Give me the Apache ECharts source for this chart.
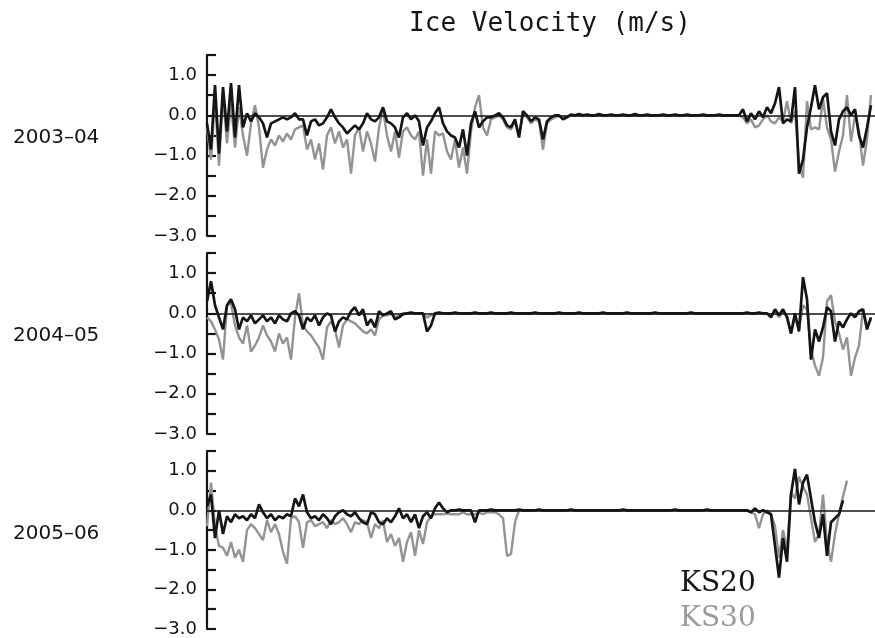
<!DOCTYPE html>
<html>
<head>
<meta charset="utf-8">
<script src="https://cdn.jsdelivr.net/npm/echarts@6/dist/echarts.min.js"></script>
<style>
  html, body { margin: 0; padding: 0; background: #fff; }
  #chart { width: 875px; height: 638px; }
</style>
</head>
<body>
<div id="chart"></div>
<script>
// Seasons shown, one panel each
const seasons = ['2003\u201304', '2004\u201305', '2005\u201306'];
const stations = ['KS20', 'KS30'];

// Ice velocity (m/s), one sample per step along the season
const ks20_2003 = [
  -0.2,-0.85,0.75,-0.95,0.7,-0.4,0.8,-0.55,0.75,-0.3,
  0.05,-0.15,0.05,-0.05,-0.2,-0.55,-0.2,-0.15,-0.1,-0.05,
  -0.1,-0.05,0.05,-0.1,-0.1,-0.5,-0.15,-0.1,-0.25,-0.2,
  -0.05,0.15,-0.05,-0.2,-0.3,-0.45,-0.35,-0.25,-0.35,-0.2,
  0.05,-0.1,-0.15,-0.05,0.2,-0.15,-0.2,-0.3,-0.55,-0.05,
  0.05,-0.1,0,-0.15,-0.75,-0.3,-0.15,0.05,0.2,-0.2,
  -0.4,-0.5,-0.55,-0.8,-0.35,-1.0,-0.2,0.1,-0.3,-0.15,
  -0.05,-0.05,0,0.05,-0.05,-0.25,-0.3,-0.1,-0.55,0.1,
  0,-0.15,-0.05,-0.1,-0.6,-0.15,-0.05,0,0,-0.1,
  -0.05,0.02,0,0.03,0,0.02,0,0,0.03,0,
  0,0.02,0,0,0.02,0,0,0.03,0,0,
  0.02,0,0,0,0.02,0,0,0.02,0,0,
  0.02,0,0,0,0.02,0,0,0,0.02,0,
  0,0,0,0,0.15,-0.15,0.05,-0.1,0.1,-0.05,
  0.2,0.05,0.3,0.7,-0.2,-0.1,-0.15,0.7,-1.45,-1.1,
  -0.3,0.2,0.75,0.15,0.45,0.55,-0.4,-0.75,-0.1,0.1,
  0.2,0,0.15,-0.5,-0.8,-0.3,0.25
];
const ks30_2003 = [
  -0.3,-1.1,0.4,-1.25,0.5,-0.7,0.3,-0.8,0.2,-0.5,
  -1.0,-0.2,0.25,-0.3,-1.3,-0.85,-0.6,-0.75,-0.5,-0.65,
  -0.45,-0.6,-0.35,-0.3,-0.25,-0.85,-0.6,-1.1,-0.7,-1.35,
  -0.5,-0.3,-0.7,-0.4,-0.8,-0.6,-1.45,-0.5,-0.3,-0.9,
  -0.4,-0.7,-1.15,-0.3,0.15,-0.5,-0.9,-0.4,-1.05,-0.4,
  -0.3,-0.5,-0.6,-0.4,-1.5,-0.6,-1.45,-0.4,-0.5,-0.45,
  -0.9,-1.1,-0.6,-1.3,-0.8,-1.45,-0.4,0.2,0.5,-0.3,
  -0.5,-0.1,-0.05,0,-0.1,-0.3,-0.35,-0.15,-0.5,0.05,
  -0.05,-0.2,-0.1,-0.15,-0.85,-0.2,-0.1,-0.05,-0.02,-0.05,
  -0.02,0,0,0,0,0,0,0,0,0,
  0,0,0,0,0,0,0,0,0,0,
  0,0,0,0,0,0,0,0,0,0,
  0,0,0,0,0,0,0,0,0,0,
  0,0,0,0,-0.05,-0.2,-0.1,-0.3,-0.25,-0.1,
  0,-0.15,-0.2,-0.05,-0.15,0.35,-0.2,0.1,-1.2,-1.55,
  0.35,-0.35,-0.3,-0.35,0.4,-0.3,-0.6,-1.4,-0.9,-0.5,
  0.5,-0.65,0,-0.4,-1.25,-0.6,0.5
];
const ks20_2004 = [
  0.3,0.8,0.2,-0.1,-0.4,0.2,0.35,0.1,-0.4,-0.1,
  -0.2,-0.05,-0.25,-0.15,-0.05,-0.2,-0.1,-0.25,-0.05,-0.15,
  -0.2,0,0.05,-0.05,-0.4,-0.1,-0.2,-0.05,-0.3,-0.1,
  0,-0.05,-0.45,-0.2,-0.1,-0.15,0.05,0.15,-0.05,0.1,
  -0.3,-0.15,-0.35,0.05,-0.05,0,0.05,-0.15,-0.1,-0.02,
  0,0.02,0,0,0,-0.45,-0.3,0,0.02,0,
  0,0,0.02,0,0,0,0,0.02,0,0,
  0,0.02,0,0,0,0,0.02,0,0,0,
  0,0,0.02,0,0,0,0,0,0.02,0,
  0,0,0,0.02,0,0,0,0,0,0.02,
  0,0,0,0,0,0.02,0,0,0,0,
  0,0,0.02,0,0,0,0,0,0,0,
  0,0.02,0,0,0,0,0,0,0,0,
  0,0,0,0,0,0.02,0,0,0.02,0,
  0,-0.1,0.1,-0.05,0.1,-0.1,-0.5,0,-0.45,0.9,
  0.35,-1.15,-0.4,-0.7,-0.35,0.15,0.05,-0.7,-0.2,-0.35,
  -0.15,0,-0.1,0.05,0.1,-0.4,-0.1
];
const ks30_2004 = [
  -0.1,-0.2,-0.4,-0.65,-1.15,0.2,0.25,-0.3,-0.6,-0.75,
  -0.3,-0.95,-0.8,-0.6,-0.3,-0.55,-0.7,-0.95,-0.5,-0.75,
  -0.6,-1.15,-0.1,0.5,-0.3,-0.45,-0.55,-0.7,-0.85,-1.15,
  -0.35,-0.2,-0.4,-0.85,-0.3,-0.15,-0.2,-0.25,-0.35,-0.45,
  -0.5,-0.4,-0.55,-0.15,-0.05,-0.05,0,-0.1,-0.05,0,
  0,0,0,0,0,-0.1,-0.05,0,0,0,
  0,0,0,0,0,0,0,0,0,0,
  0,0,0,0,0,0,0,0,0,0,
  0,0,0,0,0,0,0,0,0,0,
  0,0,0,0,0,0,0,0,0,0,
  0,0,0,0,0,0,0,0,0,0,
  0,0,0,0,0,0,0,0,0,0,
  0,0,0,0,0,0,0,0,0,0,
  0,0,0,0,0,0,0,0,0,0,
  0,-0.05,0.05,-0.1,0.05,-0.05,-0.5,-0.1,-0.4,0.2,
  0.1,-0.9,-1.3,-1.55,-1.1,0.3,0.45,-0.2,-0.5,-0.9,
  -0.6,-1.55,-1.1,-0.8,0.1,-0.3,-0.15
];
const ks20_2005 = [
  0.1,0.4,-0.7,0,-0.6,-0.15,-0.3,-0.1,-0.2,-0.15,
  -0.25,-0.1,-0.2,0.15,-0.05,-0.2,-0.1,-0.25,-0.15,-0.2,
  -0.1,-0.15,0.3,0.1,0.4,-0.05,-0.2,-0.15,-0.25,-0.1,
  -0.2,-0.35,-0.15,-0.05,0,-0.1,-0.15,-0.05,-0.2,-0.3,
  -0.35,-0.05,-0.1,-0.3,-0.35,-0.2,-0.3,-0.15,0.05,-0.2,
  -0.1,-0.3,-0.1,-0.45,-0.15,-0.05,-0.2,0.05,0.2,0.05,
  -0.05,0,0,0.02,0,0,0,-0.3,0,0,
  0,0.02,0,0,0,0,0,0,0.02,0,
  0,0,0,0.02,0,0,0,0,0,0,
  0,0.02,0,0,0,0,0,0,0,0,
  0,0,0,0,0.02,0,0,0,0,0,
  0,0,0,0,0,0,0,0.02,0,0,
  0,0,0,0,0,0.02,0,0,0,0,
  0,0,0,0,0,0,-0.05,0.05,-0.05,0,
  -0.05,-0.1,-0.9,-1.7,-0.7,-1.3,0.4,1.05,0.15,0.7,
  0.9,0.3,-0.3,-0.7,-0.1,-1.15,-0.3,-0.2,-0.1,0.25,
  null,null,null,null,null,null,null
];
const ks30_2005 = [
  -0.4,0.7,-0.4,-0.9,-0.95,-1.15,-0.8,-1.2,-1.0,-1.3,
  -0.5,-0.35,-0.45,-0.6,-0.75,-0.25,-0.55,-0.35,-0.6,-1.05,
  -1.35,-0.2,-0.15,-0.3,-0.95,-0.3,-0.25,-0.4,-0.35,-0.3,
  -0.45,-0.25,-0.35,-0.3,-0.2,-0.35,-0.55,-0.3,-0.35,-0.25,
  -0.3,-0.7,-0.35,-0.45,-0.25,-0.8,-0.6,-0.9,-0.7,-1.3,
  -0.8,-0.55,-1.15,-0.5,-0.85,-0.3,-0.15,-0.1,-0.1,-0.1,
  -0.08,-0.1,-0.1,-0.1,-0.05,-0.1,-0.1,-0.1,-0.05,-0.1,
  -0.05,-0.05,-0.05,-0.1,-0.2,-1.15,-1.1,-0.3,0,0,
  0,0,0,0,0,0,0,0,0,0,
  0,0,0,0,0,0,0,0,0,0,
  0,0,0,0,0,0,0,0,0,0,
  0,0,0,0,0,0,0,0,0,0,
  0,0,0,0,0,0,0,0,0,0,
  0,0,0,0,0,0,-0.05,-0.1,-0.45,-0.1,
  0,-0.1,-0.4,-1.2,-0.5,-1.0,0.45,0.3,0.85,0.6,
  0.4,-0.2,-0.8,-0.6,0.4,-0.8,-1.3,-0.6,-0.1,0.35,
  0.75,null,null,null,null,null,null
];

const ks20 = [ks20_2003, ks20_2004, ks20_2005];
const ks30 = [ks30_2003, ks30_2004, ks30_2005];

const INK = '#151515';
const GREY = '#939393';
const panelTops = [55, 253, 451];
const panelHeight = 181;

const toPairs = arr => arr.map((v, i) => [i, v]).filter(d => d[1] !== null);

function tickText(v) {
  if (Math.abs(v - Math.round(v)) > 1e-9) return '';
  const r = Math.round(v);
  return (r < 0 ? '\u2212' : '') + Math.abs(r).toFixed(1);
}

const grids = [], xAxes = [], yAxes = [], series = [], graphics = [];
panelTops.forEach((top, p) => {
  grids.push({ left: 207, width: 668, top: top, height: panelHeight });
  xAxes.push({ gridIndex: p, type: 'value', min: 0, max: 167, show: false });
  yAxes.push({
    gridIndex: p, type: 'value', min: -3, max: 1.5, interval: 0.5,
    axisLine: { show: true, lineStyle: { color: INK, width: 2.2 } },
    axisTick: { show: true, inside: true, length: 9, lineStyle: { color: INK, width: 2.2 } },
    axisLabel: {
      formatter: tickText, margin: 10, color: INK,
      fontFamily: 'DejaVu Sans', fontSize: 18
    },
    splitLine: { show: false }
  });
  series.push({
    name: stations[1], type: 'line', xAxisIndex: p, yAxisIndex: p,
    data: toPairs(ks30[p]), showSymbol: false, symbol: 'none',
    lineStyle: { color: GREY, width: 2.4 }, itemStyle: { color: GREY },
    z: 2
  });
  series.push({
    name: stations[0], type: 'line', xAxisIndex: p, yAxisIndex: p,
    data: toPairs(ks20[p]), showSymbol: false, symbol: 'none',
    lineStyle: { color: INK, width: 2.7 }, itemStyle: { color: INK },
    z: 3,
    markLine: {
      silent: true, symbol: ['none', 'none'], label: { show: false },
      lineStyle: { color: INK, width: 1.6, type: 'solid' },
      data: [{ yAxis: 0 }]
    }
  });
  graphics.push({
    type: 'text', x: 13, y: top + 83,
    style: {
      text: seasons[p], fill: INK, font: '20px "DejaVu Sans"',
      textAlign: 'left', textVerticalAlign: 'middle'
    }
  });
});

graphics.push({
  type: 'text', x: 550, y: 24,
  style: {
    text: 'Ice Velocity (m/s)', fill: INK, font: '26px "DejaVu Sans Mono"',
    textAlign: 'center', textVerticalAlign: 'middle'
  }
});

const chart = echarts.init(document.getElementById('chart'), null, { renderer: 'canvas' });
chart.setOption({
  animation: false,
  backgroundColor: '#ffffff',
  grid: grids,
  xAxis: xAxes,
  yAxis: yAxes,
  legend: {
    orient: 'vertical', left: 675, top: 570, padding: 0, itemGap: 7,
    itemWidth: 0, itemHeight: 0, icon: 'rect',
    itemStyle: { opacity: 0 },
    selectedMode: false,
    textStyle: { fontFamily: 'DejaVu Serif', fontSize: 28 },
    data: [
      { name: stations[0], textStyle: { color: INK } },
      { name: stations[1], textStyle: { color: '#9a9a9a' } }
    ]
  },
  graphic: graphics,
  series: series
});
</script>
</body>
</html>
